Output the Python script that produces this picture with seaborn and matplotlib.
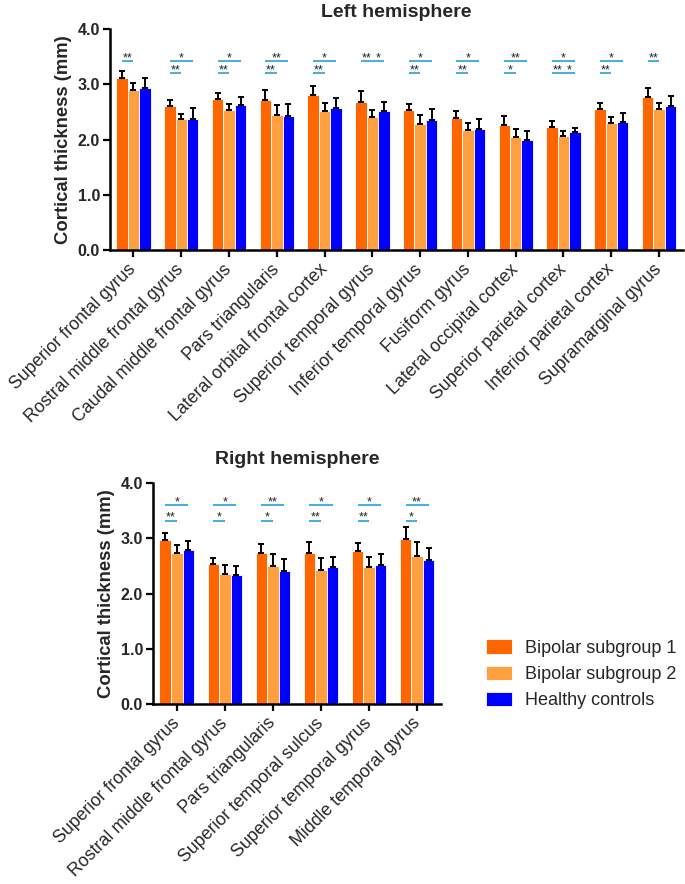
import numpy as np
import pandas as pd
import matplotlib
matplotlib.use("Agg")
import matplotlib.pyplot as plt
import seaborn as sns

# ---------------- data ----------------
groups = ["Bipolar subgroup 1", "Bipolar subgroup 2", "Healthy controls"]
colors = ["#FF6600", "#FFA040", "#0000FF"]

left_regions = ["Superior frontal gyrus", "Rostral middle frontal gyrus",
                "Caudal middle frontal gyrus", "Pars triangularis",
                "Lateral orbital frontal cortex", "Superior temporal gyrus",
                "Inferior temporal gyrus", "Fusiform gyrus",
                "Lateral occipital cortex", "Superior parietal cortex",
                "Inferior parietal cortex", "Supramarginal gyrus"]
left_bp1_mean = [3.11, 2.61, 2.74, 2.72, 2.80, 2.69, 2.54, 2.39, 2.26, 2.23, 2.55, 2.78]
left_bp1_sd = [0.13, 0.10, 0.10, 0.18, 0.17, 0.19, 0.11, 0.13, 0.17, 0.11, 0.12, 0.15]
left_bp2_mean = [2.89, 2.37, 2.54, 2.45, 2.52, 2.41, 2.28, 2.17, 2.04, 2.07, 2.31, 2.56]
left_bp2_sd = [0.13, 0.10, 0.10, 0.18, 0.15, 0.13, 0.16, 0.13, 0.16, 0.09, 0.10, 0.10]
left_hc_mean = [2.93, 2.38, 2.62, 2.42, 2.57, 2.52, 2.36, 2.20, 1.99, 2.14, 2.32, 2.61]
left_hc_sd = [0.18, 0.19, 0.16, 0.23, 0.19, 0.17, 0.20, 0.17, 0.17, 0.08, 0.16, 0.18]

right_regions = ["Superior frontal gyrus", "Rostral middle frontal gyrus",
                 "Pars triangularis", "Superior temporal sulcus",
                 "Superior temporal gyrus", "Middle temporal gyrus"]
right_bp1_mean = [2.97, 2.54, 2.74, 2.74, 2.77, 2.99]
right_bp1_sd = [0.12, 0.11, 0.16, 0.20, 0.15, 0.22]
right_bp2_mean = [2.74, 2.36, 2.49, 2.43, 2.48, 2.68]
right_bp2_sd = [0.14, 0.15, 0.22, 0.22, 0.18, 0.25]
right_hc_mean = [2.78, 2.33, 2.40, 2.48, 2.51, 2.61]
right_hc_sd = [0.17, 0.17, 0.22, 0.18, 0.20, 0.22]

# significance: (region index, bar a, bar b, row, label)
left_sig = [(0, 0, 1, 0, "**"),
            (1, 0, 2, 0, "*"), (1, 0, 1, 1, "**"),
            (2, 0, 2, 0, "*"), (2, 0, 1, 1, "**"),
            (3, 0, 2, 0, "**"), (3, 0, 1, 1, "**"),
            (4, 0, 2, 0, "*"), (4, 0, 1, 1, "**"),
            (5, 0, 1, 0, "**"), (5, 1, 2, 0, "*"),
            (6, 0, 2, 0, "*"), (6, 0, 1, 1, "**"),
            (7, 0, 2, 0, "*"), (7, 0, 1, 1, "**"),
            (8, 0, 2, 0, "**"), (8, 0, 1, 1, "*"),
            (9, 0, 2, 0, "*"), (9, 0, 1, 1, "**"), (9, 1, 2, 1, "*"),
            (10, 0, 2, 0, "*"), (10, 0, 1, 1, "**"),
            (11, 0, 1, 0, "**")]
right_sig = [(0, 0, 2, 0, "*"), (0, 0, 1, 1, "**"),
             (1, 0, 2, 0, "*"), (1, 0, 1, 1, "*"),
             (2, 0, 2, 0, "**"), (2, 0, 1, 1, "*"),
             (3, 0, 2, 0, "*"), (3, 0, 1, 1, "**"),
             (4, 0, 2, 0, "*"), (4, 0, 1, 1, "**"),
             (5, 0, 2, 0, "**"), (5, 0, 1, 1, "*")]

yticks = [0.0, 1.0, 2.0, 3.0, 4.0]

# ---------------- style ----------------
sns.set_style("ticks")
plt.rcParams["font.family"] = ["Liberation Sans", "DejaVu Sans"]

fig = plt.figure(figsize=(6.85, 8.84), dpi=100)
ax1 = fig.add_axes([0.160, 0.717, 0.837, 0.250])
ax2 = fig.add_axes([0.223, 0.2036, 0.421, 0.250])


def draw(ax, regions, means, sds, sig, levels, title, legend, tpad):
    rows = []
    for g, m in zip(groups, means):
        for r, v in zip(regions, m):
            rows.append({"region": r, "group": g, "thickness": v})
    df = pd.DataFrame(rows)
    sns.barplot(data=df, x="region", y="thickness", hue="group",
                order=regions, hue_order=groups, palette=colors, saturation=1,
                width=0.72, errorbar=None, edgecolor="white", linewidth=0.6,
                ax=ax, legend=legend)
    centers = []
    for cont, m, s in zip(ax.containers, means, sds):
        xs = [p.get_x() + p.get_width() / 2 for p in cont]
        centers.append(xs)
        ax.errorbar(xs, m, yerr=[np.zeros(len(s)), s], fmt="none",
                    ecolor="black", elinewidth=1.4, capsize=2.4,
                    capthick=1.4, zorder=5)
    for (ri, a, b, row, lab) in sig:
        y = levels[row]
        x0, x1 = centers[a][ri], centers[b][ri]
        ax.plot([x0, x1], [y, y], color="#35A8E0", lw=1.3, solid_capstyle="butt")
        ax.text((x0 + x1) / 2, y, lab, ha="center", va="baseline",
                fontsize=9, color="#222222")
    ax.set_ylim(0, 4)
    ax.set_xlim(-0.5, len(regions) - 0.5)
    ax.set_yticks(yticks)
    ax.set_yticklabels([f"{t:.1f}" for t in yticks], fontsize=11.5, fontweight="bold")
    ax.set_xticks(range(len(regions)))
    ax.set_xticklabels(regions, rotation=45, ha="right", va="center",
                       rotation_mode="anchor", fontsize=12.8)
    ax.set_xlabel("")
    ax.set_ylabel("Cortical thickness (mm)", fontsize=13.3, fontweight="bold",
                  labelpad=4)
    ax.set_title(title, fontsize=14, fontweight="bold", pad=tpad)
    sns.despine(ax=ax)
    for sp in ("left", "bottom"):
        ax.spines[sp].set_linewidth(1.8)
        ax.spines[sp].set_color("black")
    ax.tick_params(axis="both", width=1.6, length=5, color="black")
    ax.tick_params(axis="y", pad=2)
    ax.tick_params(axis="x", pad=7)


draw(ax1, left_regions, [left_bp1_mean, left_bp2_mean, left_hc_mean],
     [left_bp1_sd, left_bp2_sd, left_hc_sd], left_sig, [3.42, 3.20],
     "Left hemisphere", False, 9)
draw(ax2, right_regions, [right_bp1_mean, right_bp2_mean, right_hc_mean],
     [right_bp1_sd, right_bp2_sd, right_hc_sd], right_sig, [3.60, 3.32],
     "Right hemisphere", True, 14)

handles, labels = ax2.get_legend_handles_labels()
ax2.get_legend().remove()
fig.legend(handles, labels, loc="upper left", bbox_to_anchor=(0.686, 0.295),
           frameon=False, fontsize=13, handlelength=1.42, handleheight=0.82,
           labelspacing=0.5, handletextpad=0.72)

fig.savefig("out.png", dpi=100)
